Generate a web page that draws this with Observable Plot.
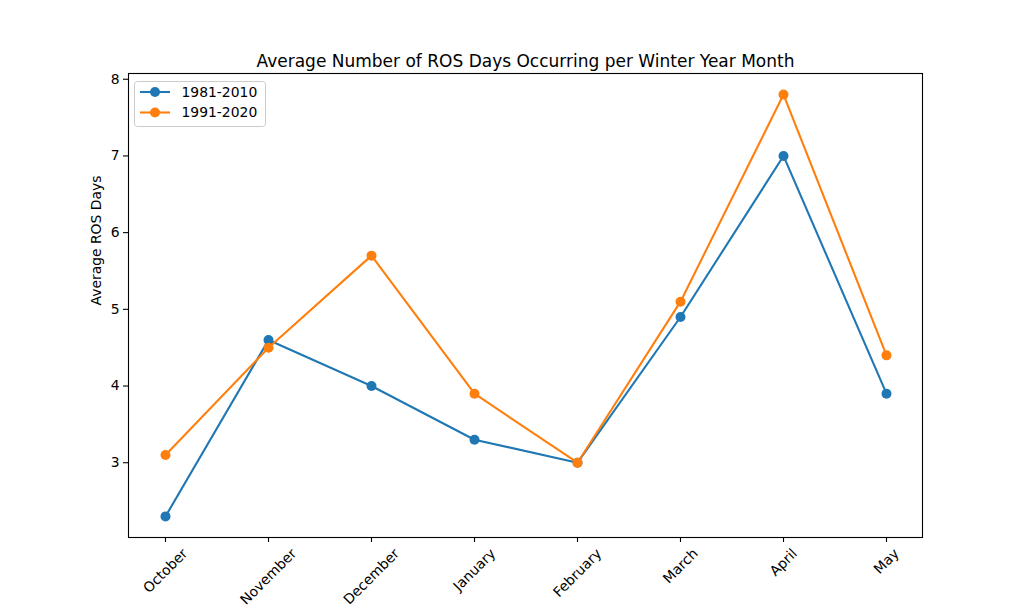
<!DOCTYPE html>
<html>
<head>
<meta charset="utf-8">
<script src="https://cdn.jsdelivr.net/npm/d3@7"></script>
<script src="https://cdn.jsdelivr.net/npm/@observablehq/plot@0.6"></script>
<style>
  html, body { margin: 0; padding: 0; background: #fff; }
  #chart svg { display: block; }
</style>
</head>
<body>
<div id="chart"></div>
<script>
const months = ["October", "November", "December", "January", "February", "March", "April", "May"];
const series1981 = [2.3, 4.6, 4.0, 3.3, 3.0, 4.9, 7.0, 3.9];
const series1991 = [3.1, 4.5, 5.7, 3.9, 3.0, 5.1, 7.8, 4.4];
const seriesNames = ["1981-2010", "1991-2020"];
const seriesColors = ["#1f77b4", "#ff7f0e"];
const yTicks = [3, 4, 5, 6, 7, 8];
const title = "Average Number of ROS Days Occurring per Winter Year Month";
const yLabel = "Average ROS Days";

const data = [];
months.forEach((m, i) => {
  data.push({month: m, series: seriesNames[0], value: series1981[i]});
  data.push({month: m, series: seriesNames[1], value: series1991[i]});
});

const FONT = "DejaVu Sans";
const FS = 13.9;
const ctx = document.createElement("canvas").getContext("2d");
ctx.font = `${FS}px "${FONT}"`;

// y domain with matplotlib-like 5% margins
const all = series1981.concat(series1991);
const lo = d3.min(all), hi = d3.max(all), pad = (hi - lo) * 0.05;

const labelMarks = months.map(m => {
  const w = ctx.measureText(m).width;
  const h = FS * 1.17;
  const half = (w + h) * Math.SQRT1_2 / 2;
  return Plot.text([m], {
    x: d => d, frameAnchor: "bottom", dy: 8 + half,
    rotate: -45, textAnchor: "middle", lineAnchor: "middle",
    fontSize: FS, fill: "black"
  });
});

const plot = Plot.plot({
  width: 1024,
  height: 614,
  marginTop: 73,
  marginBottom: 77,
  marginLeft: 128,
  marginRight: 102,
  style: {fontFamily: FONT, fontSize: FS + "px", color: "black", background: "white"},
  x: {type: "point", domain: months, padding: 0.35, label: null},
  y: {domain: [lo - pad, hi + pad], label: null},
  color: {domain: seriesNames, range: seriesColors},
  marks: [
    Plot.axisX({ticks: months, tickSize: 5, text: null, stroke: "black", strokeWidth: 1.1, label: null}),
    Plot.axisY({ticks: yTicks, tickFormat: d => String(d), tickSize: 5, tickPadding: 4, fontSize: FS, stroke: "black", strokeWidth: 1.1, fill: "black", label: null}),
    ...labelMarks,
    Plot.text([yLabel], {frameAnchor: "left", rotate: -90, dx: -32, fontSize: FS, fill: "black"}),
    Plot.text([title], {frameAnchor: "top", dy: -7, lineAnchor: "bottom", fontSize: 17, fill: "black"}),
    Plot.line(data, {x: "month", y: "value", stroke: "series", z: "series", strokeWidth: 2.1}),
    Plot.dot(data, {x: "month", y: "value", fill: "series", r: 5}),
    Plot.frame({stroke: "black", strokeWidth: 1.1})
  ]
});

document.getElementById("chart").appendChild(plot);

// Legend (matplotlib style, upper left inside axes)
const svg = d3.select(plot);
const lg = svg.append("g").attr("transform", "translate(134,81)").attr("text-anchor", "start");
lg.append("rect").attr("x", 0.5).attr("y", 0.5).attr("width", 131).attr("height", 45)
  .attr("rx", 3).attr("fill", "white").attr("fill-opacity", 0.8)
  .attr("stroke", "#cccccc").attr("stroke-width", 1);
seriesNames.forEach((name, i) => {
  const yy = 11 + i * 20.5;
  lg.append("line").attr("x1", 6).attr("x2", 36).attr("y1", yy).attr("y2", yy)
    .attr("stroke", seriesColors[i]).attr("stroke-width", 2.1);
  lg.append("circle").attr("cx", 21).attr("cy", yy).attr("r", 5).attr("fill", seriesColors[i]);
  lg.append("text").attr("x", 47.5).attr("y", yy).attr("dy", "0.35em")
    .attr("text-anchor", "start")
    .attr("font-family", FONT).attr("font-size", FS).attr("fill", "black").text(name);
});
</script>
</body>
</html>
